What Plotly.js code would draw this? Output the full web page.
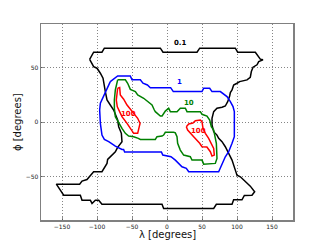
<!DOCTYPE html>
<html>
<head>
<meta charset="utf-8">
<script src="https://cdn.plot.ly/plotly-3.0.1.min.js"></script>
<style>html,body{margin:0;padding:0;background:#fff;}#chart{width:325px;height:245px;}</style>
</head>
<body>
<div id="chart"></div>
<script>
// Contour level 0.1 (black)
const lon01 = [-110.5,-104.8,-92.9,-89.5,-9.5,-5.7,42.9,46.7,97.6,101,126.2,133.3,137.1,131,128.6,122.9,120.5,119,114.3,103.8,100,95.2,92.9,90.5,89.5,86.7,83.3,78.6,71.4,66.7,64.3,64.3,66.7,71.4,73.8,78.6,83.3,88.1,92.9,97.6,100,104.8,111.9,119,125.2,121.4,110.5,107.1,95.2,92.9,70.5,66.7,-4.8,-7.1,-92.9,-97.6,-102.4,-107.1,-109.5,-121.4,-123.8,-147.6,-152.4,-158.1,-124.8,-121.4,-114.3,-110.5,-104.8,-92.9,-89.5,-85.7,-84.8,-80,-73.8,-70.5,-64.3,-65.2,-69,-70.5,-72.4,-76.2,-81,-85.7,-88.1,-89.5,-91.4,-95.2,-100,-104.8,-110.5];
const lat01 = [57.5,64.1,64.1,67.8,67.8,64.1,64.1,67.8,67.8,64.1,64.1,57.7,57.1,55.5,52.5,50.3,46.3,41.1,38.7,37.1,35.6,34,29.4,27,23.9,18.7,14.7,13.5,12.6,9.5,3.4,-2.8,-8.9,-12,-15,-18.1,-22.7,-28.8,-35,-44.2,-48.8,-50.3,-54.9,-58.9,-64.1,-67.2,-67.5,-71.5,-71.5,-75.6,-75.6,-79.4,-79.4,-75.6,-75.6,-71.8,-71.8,-74.8,-71.8,-71.8,-67.2,-67.2,-62.6,-57.1,-57.1,-54.3,-52.8,-50.3,-45.7,-45.7,-42.6,-38,-34.4,-31.3,-27.3,-23.3,-18.1,-10.4,-4.3,1.8,4.9,11,15.6,20.2,27.9,35.6,40.2,44.8,49.4,50.9,57.5];

// Contour level 1 (blue)
const lon1 = [-81,-70.5,-52.4,-50,-38.1,-34.3,-28,-23.8,5.2,9,50,52.4,61,64.3,76.2,81,85.7,90.5,94.3,96.2,96.2,92.9,88.1,83.3,78.6,76.2,73.8,31,27.6,21.4,14.3,11.9,5.7,-3,-6,-8,-60.5,-62,-64.3,-73.8,-80,-83.3,-89.5,-92.9,-95.2,-96.2,-95.2,-90.5,-85.7,-81];
const lat1 = [37.1,42.3,42.3,38.7,38.7,35.6,34,31.5,31.5,27.9,27.9,31,31,27.9,27.9,25.8,23.3,18.7,14.1,9.5,-13.5,-19.6,-27.3,-31.9,-38,-42.6,-45.7,-45.7,-42.6,-41.1,-36.5,-35,-31.9,-30.4,-30.4,-27.5,-27.5,-25.2,-25.2,-22.1,-19,-18.1,-16,-12,-1.2,11,17.2,23.9,31,37.1];

// Contour level 10 (green)
const lon10 = [-70.5,-59.5,-56.2,-52.4,-45.2,-41.9,-33.3,-26,-21.4,-18.1,-16.7,-9.5,-7,-2.4,2.4,4.8,14.3,19,26.2,28.6,47.6,50,57.1,61,63.3,66.7,69,70.5,71.4,69,52.4,50,35.7,33.3,23.8,19,15.2,14.3,11.9,9.5,-2.4,-4.8,-7.1,-14.3,-16.7,-38.1,-41,-47.6,-54.8,-59.5,-64.3,-69,-73.8,-75.2,-75.2,-73.8,-71.4,-70.5];
const lat10 = [38.7,38.7,35.6,30,27.9,24.8,21.8,18.5,15.6,11,9.5,5.5,5.5,10,12.6,9.5,9.5,12.6,12.6,9.5,9.5,7.1,5.5,1.8,-4.3,-7.4,-13.5,-19.6,-33.4,-38,-38.7,-35,-35,-31.9,-30.4,-25.8,-19.6,-13.5,-10,-9.5,-9.5,-12,-12.9,-13.5,-16,-16,-15,-13.5,-12.9,-10.4,-5.8,-1,4.9,12.6,20.2,29.4,35,38.7];

// Contour level 100 (red), two islands
const lon100a = [-70.5,-67.6,-66.7,-61.9,-57.1,-52.4,-47,-41.9,-38.5,-40.5,-41.9,-47.6,-50,-57.1,-64.3,-68,-71,-72.4,-71.4,-70.5];
const lat100a = [31,31.6,24.8,20.9,15.6,11.7,7.5,3.4,-1.2,-5.8,-10.4,-10.4,-8,-1.2,4.9,9.5,14,20.2,28,31];
const lon100b = [27.6,31,37,40.5,47.6,50,51.4,54.8,59.5,62.9,66.7,67.6,64.3,61.9,57,50,46.7,38.1,29.5,27.6];
const lat100b = [-4.3,-1.8,-1,1.2,1.8,0.3,-5.8,-10.4,-15,-19.6,-24.2,-30.4,-31.3,-27.3,-23,-22.7,-19.6,-13.5,-7.4,-4.3];

// Contour labels
const labelText = ['0.1','1','10','100','100'];
const labelLon = [19, 18.1, 31.9, -54.8, 45.7];
const labelLat = [72.4, 37.1, 17.2, 7.4, -8];
const labelColor = ['#000000','#0000ff','#008000','#ff0000','#ff0000'];

// Ticks and axis titles
const xTickVals = [-150,-100,-50,0,50,100,150];
const xTickText = ['\u2212150','\u2212100','\u221250','0','50','100','150'];
const yTickVals = [-50,0,50];
const yTickText = ['\u221250','0','50'];
const xTitle = '\u03bb [degrees]';
const yTitle = '\u03d5 [degrees]';

const lw = 1.5;
const traces = [
  {x: lon01, y: lat01, mode:'lines', line:{color:'#000000', width:lw}, hoverinfo:'skip'},
  {x: lon1, y: lat1, mode:'lines', line:{color:'#0000ff', width:lw}, hoverinfo:'skip'},
  {x: lon10, y: lat10, mode:'lines', line:{color:'#008000', width:lw}, hoverinfo:'skip'},
  {x: lon100a, y: lat100a, mode:'lines', line:{color:'#ff0000', width:lw}, hoverinfo:'skip'},
  {x: lon100b, y: lat100b, mode:'lines', line:{color:'#ff0000', width:lw}, hoverinfo:'skip'}
];

const annotations = labelText.map((t,i)=>({
  x: labelLon[i], y: labelLat[i], xref:'x', yref:'y', text:'<b>'+t+'</b>', showarrow:false,
  font:{family:'DejaVu Sans', size:7, color:labelColor[i]}
}));
annotations.push({xref:'paper', yref:'paper', x:0.5, y:-0.0765, xanchor:'center', yanchor:'middle',
  text:xTitle, showarrow:false, font:{family:'DejaVu Sans', size:10, color:'#111'}});
annotations.push({xref:'paper', yref:'paper', x:-0.095, y:0.5, xanchor:'center', yanchor:'middle',
  text:yTitle, textangle:-90, showarrow:false, font:{family:'DejaVu Sans', size:10, color:'#111'}});

const axisCommon = {
  showgrid:true, gridcolor:'#666666', griddash:'1px,2px', gridwidth:0.8,
  zeroline:false, showline:true, mirror:true, linecolor:'#808080', linewidth:1.5,
  ticks:'inside', ticklen:3, tickcolor:'#444', tickwidth:0.6,
  tickfont:{family:'DejaVu Sans', size:6, color:'#222'}, fixedrange:true, automargin:false
};

const layout = {
  width:325, height:245,
  margin:{l:41, r:32, t:24, b:25, pad:0},
  paper_bgcolor:'#ffffff', plot_bgcolor:'#ffffff',
  showlegend:false,
  font:{family:'DejaVu Sans'},
  xaxis: Object.assign({}, axisCommon, {
    range:[-180,180], tickmode:'array', tickvals:xTickVals, ticktext:xTickText
  }),
  yaxis: Object.assign({}, axisCommon, {
    range:[-90,90], tickmode:'array', tickvals:yTickVals, ticktext:yTickText
  }),
  annotations: annotations
};

Plotly.newPlot('chart', traces, layout, {staticPlot:true, displayModeBar:false});
</script>
</body>
</html>
